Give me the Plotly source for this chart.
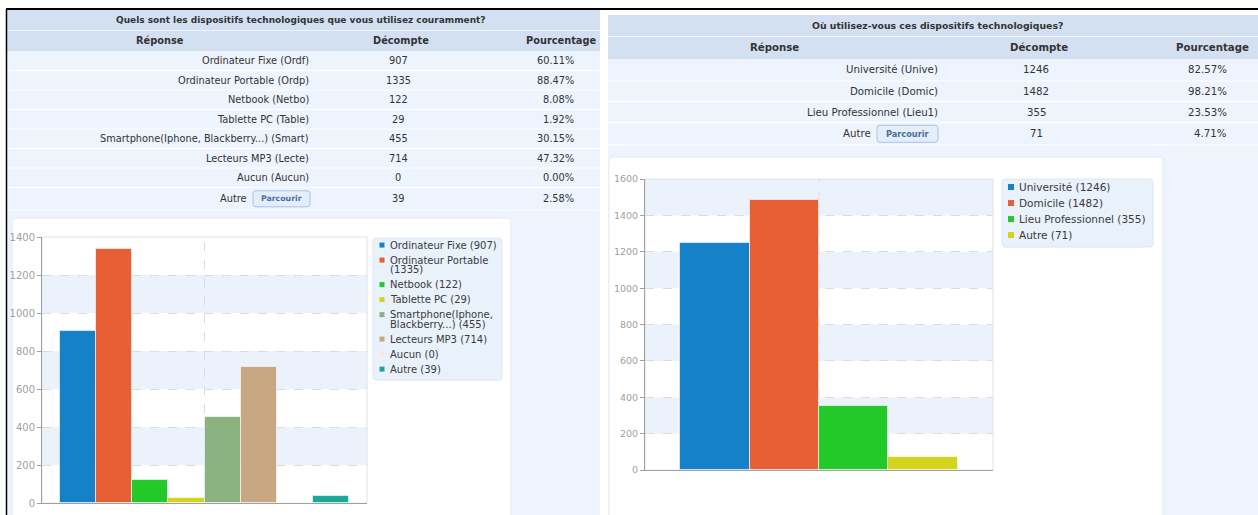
import textwrap
import plotly.graph_objects as go

W, H = 1258, 522  # figure height; layout below is given in target pixels

# ---- data ----
Q1_TITLE = "Quels sont les dispositifs technologiques que vous utilisez couramment?"
Q1_ANSWERS = ["Ordinateur Fixe (Ordf)", "Ordinateur Portable (Ordp)", "Netbook (Netbo)",
              "Tablette PC (Table)", "Smartphone(Iphone, Blackberry...) (Smart)",
              "Lecteurs MP3 (Lecte)", "Aucun (Aucun)", "Autre"]
Q1_NAMES = ["Ordinateur Fixe", "Ordinateur Portable", "Netbook", "Tablette PC",
            "Smartphone(Iphone, Blackberry...)", "Lecteurs MP3", "Aucun", "Autre"]
Q1_COUNTS = [907, 1335, 122, 29, 455, 714, 0, 39]
Q1_PCT = [60.11, 88.47, 8.08, 1.92, 30.15, 47.32, 0.00, 2.58]

Q2_TITLE = "Où utilisez-vous ces dispositifs technologiques?"
Q2_ANSWERS = ["Université (Unive)", "Domicile (Domic)", "Lieu Professionnel (Lieu1)", "Autre"]
Q2_NAMES = ["Université", "Domicile", "Lieu Professionnel", "Autre"]
Q2_COUNTS = [1246, 1482, 355, 71]
Q2_PCT = [82.57, 98.21, 23.53, 4.71]

HEADERS = ["Réponse", "Décompte", "Pourcentage"]
BUTTON = "Parcourir"

Q1_COLORS = ["#1581c9", "#e65f35", "#23c929", "#d4d41f", "#8ab381", "#c8a882", "#fbe6e1", "#1aa89b"]
Q2_COLORS = Q1_COLORS[:4]

HEAD_BG = "#d3e0f1"
ROW_BG = "#edf4fd"
TXT = "#333333"
FONT = "DejaVu Sans"


def px(x):
    return x / W


def py(y):
    # target pixel row -> paper fraction (the capture shifts/squeezes rows slightly)
    return 1 - ((y - 5.04) / 0.9785) / H


shapes = []
annotations = []


def rect(x0, y0, x1, y1, fill, line_color=None, r=0, layer="below"):
    line = dict(width=1, color=line_color) if line_color else dict(width=0)
    if r == 0:
        shapes.append(dict(type="rect", xref="paper", yref="paper", x0=px(x0), x1=px(x1),
                           y0=py(y1), y1=py(y0), fillcolor=fill, line=line, layer=layer))
        return
    p = lambda x, y: f"{px(x):.5f},{py(y):.5f}"
    path = (f"M{p(x0 + r, y0)} L{p(x1 - r, y0)} Q{p(x1, y0)} {p(x1, y0 + r)} "
            f"L{p(x1, y1 - r)} Q{p(x1, y1)} {p(x1 - r, y1)} L{p(x0 + r, y1)} "
            f"Q{p(x0, y1)} {p(x0, y1 - r)} L{p(x0, y0 + r)} Q{p(x0, y0)} {p(x0 + r, y0)} Z")
    shapes.append(dict(type="path", xref="paper", yref="paper", path=path,
                       fillcolor=fill, line=line, layer=layer))


def hline(x0, x1, y, color, w=1, layer="below"):
    shapes.append(dict(type="line", xref="paper", yref="paper", x0=px(x0), x1=px(x1),
                       y0=py(y), y1=py(y), line=dict(color=color, width=w), layer=layer))


def text(x, y, s, size, anchor="center", color=TXT, bold=False):
    annotations.append(dict(x=px(x), y=py(y), xref="paper", yref="paper", showarrow=False,
                            text=f"<b>{s}</b>" if bold else s, xanchor=anchor, yanchor="middle",
                            font=dict(family=FONT, size=size, color=color)))


def table(x0, x1, top, head_h, bounds, title, title_x, title_size, head_xs, answers, counts, pcts,
          lab_r, autre_r, btn, cnt_x, pct_r, size):
    rect(x0, top, x1, 520, ROW_BG)
    rect(x0, top, x1, top + head_h, HEAD_BG)
    rect(x0, top + head_h + 1, x1, bounds[0], HEAD_BG)
    text(title_x, top + head_h / 2, title, title_size, bold=True)
    hy = (top + head_h + 1 + bounds[0]) / 2
    for hx, h in zip(head_xs, HEADERS):
        text(hx, hy, h, size, bold=True)
    for b in bounds[1:]:
        hline(x0, x1, b, "#ffffff")
    for i, (a, c, p) in enumerate(zip(answers, counts, pcts)):
        cy = (bounds[i] + bounds[i + 1]) / 2
        if a == "Autre":
            text(autre_r, cy, a, size, anchor="right")
            rect(btn[0], cy - btn[1] / 2, btn[0] + btn[2], cy + btn[1] / 2, "#e4eefa", "#a7c4e4", r=3)
            text(btn[0] + btn[2] / 2, cy, BUTTON, size - 2, color="#4a6f98", bold=True)
        else:
            text(lab_r, cy, a, size, anchor="right")
        text(cnt_x, cy, str(c), size)
        text(pct_r, cy, f"{p:.2f}%", size, anchor="right")


def legend(box, names, counts, colors, sq_x, txt_x, y0, step, line_h, size, sq, wrap):
    rect(*box, "#e9f1fb", "#dde7f3", r=4)
    y = y0
    for n, c, col in zip(names, counts, colors):
        lines = textwrap.wrap(f"{n} ({c})", wrap)
        rect(sq_x - sq / 2, y - sq / 2, sq_x + sq / 2, y + sq / 2, col)
        for k, ln in enumerate(lines):
            text(txt_x, y + k * line_h, ln, size, anchor="left", color="#3a3a3a")
        y += step + (len(lines) - 1) * line_h


# ---- page panels ----
table(6, 600, 9, 20, [50 + 19.5 * k for k in range(8)] + [209], Q1_TITLE, 301, 9.0,
      [160, 401, 561], Q1_ANSWERS, Q1_COUNTS, Q1_PCT, 311, 249, (253, 16, 57), 398, 576, 9.8)
table(608, 1258, 14, 21, [58, 80, 100.5, 121.5, 144], Q2_TITLE, 937, 9.3,
      [774, 1039, 1212], Q2_ANSWERS, Q2_COUNTS, Q2_PCT, 940, 873, (877, 17, 61), 1036, 1229, 10.2)

rect(12, 217, 511, 525, "#ffffff", "#e6ebf0", r=5)
rect(609, 156, 1163, 525, "#ffffff", "#e6ebf0", r=5)

hline(6, 1258, 8, "#000000", 2)
shapes.append(dict(type="line", xref="paper", yref="paper", x0=px(6.5), x1=px(6.5),
                   y0=0, y1=py(8), line=dict(color="#000000", width=1.5), layer="above"))

legend((373, 237, 502, 379), Q1_NAMES, Q1_COUNTS, Q1_COLORS, 382, 388, 244, 15, 9.5, 10, 5, 21)
legend((1002, 178, 1153, 246), Q2_NAMES, Q2_COUNTS, Q2_COLORS, 1011, 1017, 186, 16, 12, 10.5, 6, 30)

# ---- bar charts ----
fig = go.Figure()
fig.add_trace(go.Bar(x=Q1_NAMES, y=Q1_COUNTS, marker=dict(color=Q1_COLORS,
                     line=dict(color="rgba(255,255,255,0.6)", width=1)),
                     xaxis="x", yaxis="y", hoverinfo="skip", showlegend=False))
fig.add_trace(go.Bar(x=Q2_NAMES, y=Q2_COUNTS, marker=dict(color=Q2_COLORS,
                     line=dict(color="rgba(255,255,255,0.6)", width=1)),
                     xaxis="x2", yaxis="y2", hoverinfo="skip", showlegend=False))

for ax, top in (("", 1400), ("2", 1600)):
    for k in range(1, top // 200, 2):
        shapes.append(dict(type="rect", xref=f"x{ax} domain", yref=f"y{ax}", x0=0, x1=1,
                           y0=200 * k, y1=200 * (k + 1), fillcolor="#ebf2fb",
                           line=dict(width=0), layer="below"))
    shapes.append(dict(type="rect", xref=f"x{ax} domain", yref=f"y{ax} domain", x0=0, x1=1,
                       y0=0, y1=1, line=dict(color="#e2e2e2", width=1), layer="below"))
    shapes.append(dict(type="line", xref=f"x{ax} domain", yref=f"y{ax} domain", x0=0.5, x1=0.5,
                       y0=0, y1=1, line=dict(color="#dcdcdc", width=1, dash="dash"), layer="below"))

yax = dict(dtick=200, showgrid=True, gridcolor="#dcdcdc", griddash="dash", zeroline=False,
           showline=True, linecolor="#a0a0a0", ticks="outside", ticklen=4, tickcolor="#a0a0a0")
xax = dict(type="category", showticklabels=False, ticks="", showgrid=False, zeroline=False,
           showline=True, linecolor="#a0a0a0", fixedrange=True)

fig.update_layout(
    width=W, height=H, margin=dict(l=0, r=0, t=0, b=0),
    paper_bgcolor="#ffffff", plot_bgcolor="#f7f7f7", bargap=0,
    xaxis=dict(xax, domain=[px(42), px(367)], anchor="y", range=[-1.01, 8.01]),
    yaxis=dict(yax, domain=[py(502), py(236)], anchor="x", range=[0, 1400],
               tickfont=dict(family=FONT, size=10, color="#a0a0a0")),
    xaxis2=dict(xax, domain=[px(645), px(993)], anchor="y2", range=[-1.01, 4.01]),
    yaxis2=dict(yax, domain=[py(469), py(178)], anchor="x2", range=[0, 1600],
                tickfont=dict(family=FONT, size=9.5, color="#a0a0a0")),
    shapes=shapes, annotations=annotations, showlegend=False,
)

fig.write_html("out.html", config={"displayModeBar": False},
               post_script="document.body.style.margin='0px';document.body.style.overflow='hidden';")
